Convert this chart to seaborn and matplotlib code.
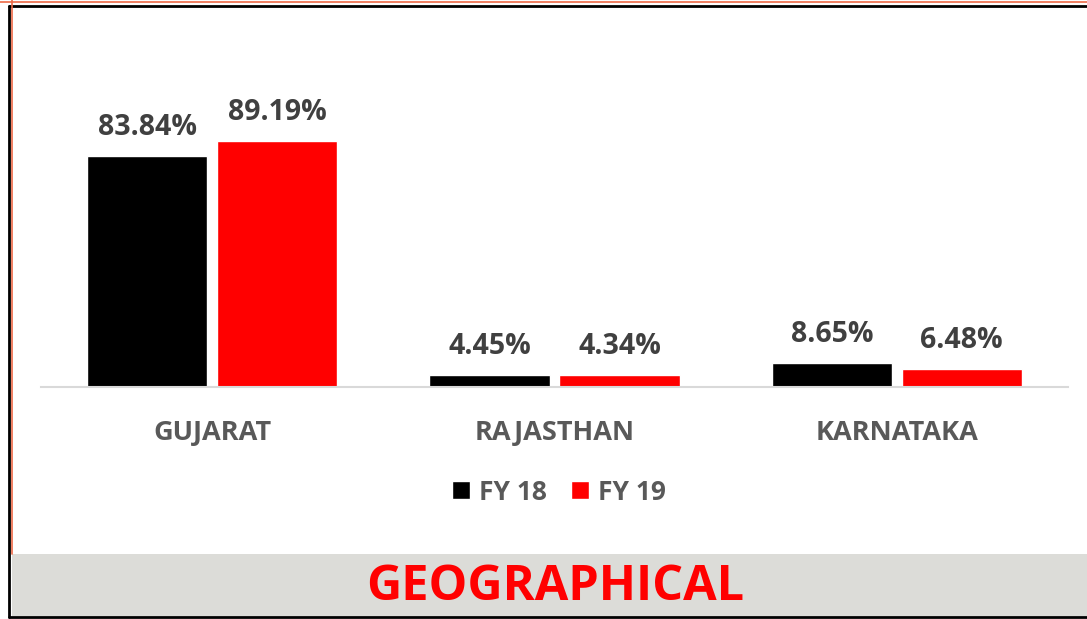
import matplotlib
matplotlib.use("Agg")
import matplotlib.pyplot as plt
import seaborn as sns
import pandas as pd
from matplotlib.patches import Rectangle
from matplotlib.lines import Line2D

states = ["GUJARAT", "RAJASTHAN", "KARNATAKA"]
years = ["FY 18", "FY 19"]
fy18 = [83.84, 4.45, 8.65]
fy19 = [89.19, 4.34, 6.48]
colors = ["#000000", "#FF0000"]
title = "GEOGRAPHICAL"

df = pd.DataFrame({
    "state": states * 2,
    "year": [years[0]] * 3 + [years[1]] * 3,
    "value": fy18 + fy19,
})

sns.set_theme(style="white")
plt.rcParams["font.family"] = ["Open Sans", "DejaVu Sans"]

W, H = 1087, 619
fig = plt.figure(figsize=(W / 100, H / 100), dpi=100)
ax = fig.add_axes([41 / W, 1 - 387 / H, (1068 - 41) / W, 276 / H])

sns.barplot(data=df, x="state", y="value", hue="year", palette=colors,
            width=0.759, gap=0.072, ax=ax, saturation=1, legend=True)

ax.set_ylim(0, 100)
ax.set_xlim(-0.5, 2.5)
ax.set_xlabel("")
ax.set_ylabel("")
ax.set_yticks([])
ax.set_xticks(range(len(states)), states, fontsize=19.5, fontweight="bold",
              color="#595959")
for s in ["top", "right", "left"]:
    ax.spines[s].set_visible(False)
ax.spines["bottom"].set_color("#D9D9D9")
ax.spines["bottom"].set_linewidth(1.5)
ax.tick_params(axis="x", length=0, pad=23.5)

for cont in ax.containers:
    for bar in cont:
        v = bar.get_height()
        ax.annotate(f"{v:.2f}%", (bar.get_x() + bar.get_width() / 2, v),
                    xytext=(0, 15), textcoords="offset points",
                    ha="center", va="baseline", fontsize=20.5,
                    fontweight="bold", color="#404040")

handles, labels = ax.get_legend_handles_labels()
ax.legend_.remove()
leg = fig.legend(handles, labels, loc="center", bbox_to_anchor=(559 / W, 1 - 492 / H),
                 ncol=2, frameon=False, handlelength=0.68,
                 handleheight=0.68, handletextpad=0.35, columnspacing=0.9,
                 prop={"weight": "bold", "size": 19})
for t in leg.get_texts():
    t.set_color("#595959")

# banner
fig.add_artist(Rectangle((12 / W, 1 - 616 / H), 1 - 12 / W, (616 - 554) / H,
                         transform=fig.transFigure, facecolor="#DCDCD8",
                         edgecolor="none", zorder=0))
fig.text(555 / W, 1 - 600 / H, title, ha="center", va="baseline",
         fontsize=35, fontweight="bold", color="#FF0000")

# frame lines
fig.add_artist(Line2D([9 / W, 9 / W], [1 - 6 / H, 1 - 617 / H], color="black",
                      lw=2, transform=fig.transFigure))
fig.add_artist(Line2D([9 / W, 1], [1 - 6 / H, 1 - 6 / H], color="black",
                      lw=2, transform=fig.transFigure))
fig.add_artist(Line2D([9 / W, 1], [1 - 617 / H, 1 - 617 / H], color="black",
                      lw=2, transform=fig.transFigure))
fig.add_artist(Line2D([11.5 / W, 11.5 / W], [1, 1 - 554 / H], color="#ED6A47",
                      lw=1.2, transform=fig.transFigure))
fig.add_artist(Line2D([0, 1], [1 - 1.5 / H, 1 - 1.5 / H], color="#ED6A47",
                      lw=1.2, transform=fig.transFigure))

fig.savefig("out.png", dpi=100)
